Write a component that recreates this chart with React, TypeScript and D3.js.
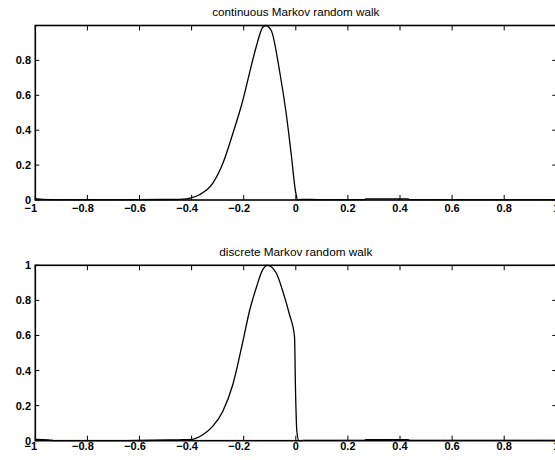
import React from 'react';
import * as d3 from 'd3';

// values (x = position, y = normalised density)
const xTicks = [-1, -0.8, -0.6, -0.4, -0.2, 0, 0.2, 0.4, 0.6, 0.8, 1];
const yTicks = [0, 0.2, 0.4, 0.6, 0.8, 1];
const topYLabels = [0, 0.2, 0.4, 0.6, 0.8];
const bottomYLabels = [0, 0.2, 0.4, 0.6, 0.8, 1];

const continuousX = [-1, -0.97, -0.9, -0.7, -0.5, -0.45, -0.42, -0.408, -0.37, -0.319, -0.28, -0.242, -0.203, -0.178, -0.152, -0.127, -0.116, -0.094, -0.063, -0.037, -0.018, 0.0, 0.008, 0.02, 0.1, 0.26, 0.27, 0.43, 0.44, 0.7, 1];
const continuousY = [0.008, 0.004, 0.002, 0.002, 0.003, 0.004, 0.006, 0.01, 0.03, 0.095, 0.21, 0.38, 0.573, 0.726, 0.878, 0.99, 1.0, 0.97, 0.745, 0.497, 0.268, 0.04, 0.0, 0.004, 0.002, 0.002, 0.006, 0.006, 0.002, 0.002, 0.002];

const discreteX = [-1, -0.95, -0.93, -0.7, -0.48, -0.45, -0.408, -0.357, -0.319, -0.28, -0.242, -0.203, -0.178, -0.152, -0.127, -0.109, -0.075, -0.05, -0.024, -0.005, -0.001, 0.004, 0.012, 0.03, 0.26, 0.27, 0.43, 0.44, 1];
const discreteY = [0.008, 0.005, 0.0, 0.0, 0.004, 0.005, 0.006, 0.034, 0.082, 0.168, 0.319, 0.567, 0.738, 0.871, 0.975, 1.0, 0.956, 0.852, 0.718, 0.595, 0.282, 0.054, 0, 0.002, 0.002, 0.006, 0.006, 0.002, 0.002];

const W = 555;
const H = 460;
const LEFT = 35.3;
const RIGHT = 556.3;
const FONT = '"Liberation Sans", Arial, Helvetica, sans-serif';

const fmt = (v: number) => (v < 0 ? '\u2212' + String(Math.abs(v)) : String(v));

type PanelProps = {
  title: string;
  titleWidth: number;
  xs: number[];
  ys: number[];
  top: number;
  bottom: number;
  titleY: number;
  xLabelY: number;
  yLabels: number[];
};

const Panel = ({ title, titleWidth, xs, ys, top, bottom, titleY, xLabelY, yLabels }: PanelProps) => {
  const x = d3.scaleLinear().domain([-1, 1]).range([LEFT, RIGHT]);
  const y = d3.scaleLinear().domain([0, 1]).range([bottom, top]);
  const pts = xs.map((v, i) => [v, ys[i]] as [number, number]);
  const line = d3.line<[number, number]>()
    .x(d => x(d[0]))
    .y(d => y(d[1]))
    .curve(d3.curveMonotoneX);
  const tickLen = 5;

  return (
    <g>
      <text
        x={(LEFT + RIGHT) / 2}
        y={titleY}
        textAnchor="middle"
        fontSize={10}
        fontFamily={FONT}
        textLength={titleWidth}
        lengthAdjust="spacingAndGlyphs"
      >
        {title}
      </text>

      {/* curve */}
      <path d={line(pts) || ''} fill="none" stroke="#000" strokeWidth={1.3} />

      {/* frame */}
      <rect x={LEFT} y={top} width={RIGHT - LEFT} height={bottom - top} fill="none" stroke="#000" strokeWidth={1.6} />

      {/* x ticks, top and bottom, pointing in */}
      {xTicks.map(t => (
        <g key={'xt' + t}>
          <line x1={x(t)} x2={x(t)} y1={bottom} y2={bottom - tickLen} stroke="#000" strokeWidth={1} />
          <line x1={x(t)} x2={x(t)} y1={top} y2={top + tickLen} stroke="#000" strokeWidth={1} />
          <text
            x={x(t) + (t < 0 ? -4.5 : 0)}
            y={xLabelY}
            textAnchor="middle"
            fontSize={11}
            fontWeight="bold"
            fontFamily={FONT}
          >
            {fmt(t)}
          </text>
        </g>
      ))}

      {/* y ticks, left and right */}
      {yTicks.map(t => (
        <g key={'yt' + t}>
          <line x1={LEFT} x2={LEFT + 4} y1={y(t)} y2={y(t)} stroke="#000" strokeWidth={1} />
          <line x1={RIGHT} x2={RIGHT - 4} y1={y(t)} y2={y(t)} stroke="#000" strokeWidth={1} />
        </g>
      ))}
      {yLabels.map(t => (
        <text
          key={'yl' + t}
          x={31}
          y={y(t) + 4}
          textAnchor="end"
          fontSize={11}
          fontWeight="bold"
          fontFamily={FONT}
        >
          {fmt(t)}
        </text>
      ))}
    </g>
  );
};

export default function App() {
  return (
    <svg
      width={W}
      height={H}
      style={{ position: 'absolute', left: 0, top: 0, background: 'white' }}
    >
      <rect width={W} height={H} fill="white" />
      <Panel
        title="continuous Markov random walk"
        titleWidth={167}
        xs={continuousX}
        ys={continuousY}
        top={25.5}
        bottom={200}
        titleY={16}
        xLabelY={212}
        yLabels={topYLabels}
      />
      <Panel
        title="discrete Markov random walk"
        titleWidth={153}
        xs={discreteX}
        ys={discreteY}
        top={265.3}
        bottom={440.7}
        titleY={256}
        xLabelY={450}
        yLabels={bottomYLabels}
      />
    </svg>
  );
}
